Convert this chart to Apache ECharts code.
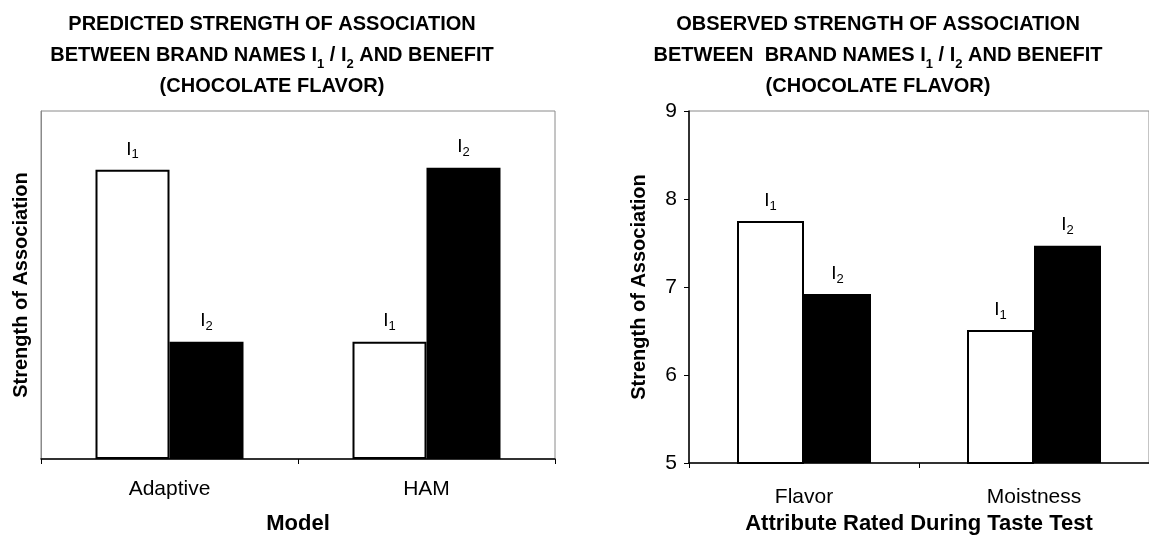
<!DOCTYPE html>
<html>
<head>
<meta charset="utf-8">
<script src="https://cdn.jsdelivr.net/npm/echarts@6/dist/echarts.min.js"></script>
<style>
  html, body { margin: 0; padding: 0; background: #fff; }
  #chart { width: 1149px; height: 540px; }
</style>
</head>
<body>
<div id="chart"></div>
<script>
// ---- data ----
const leftCategories = ['Adaptive', 'HAM'];
const leftI1 = [8.31, 3.37];
const leftI2 = [3.37, 8.37];
const leftYMin = 0;
const leftYMax = 10;

const rightCategories = ['Flavor', 'Moistness'];
const rightI1 = [7.75, 6.51];
const rightI2 = [6.92, 7.47];
const rightYMin = 5;
const rightYMax = 9;
const rightYInterval = 1;

const leftTitle = 'PREDICTED STRENGTH OF ASSOCIATION\nBETWEEN BRAND NAMES I{s|1} / I{s|2} AND BENEFIT\n(CHOCOLATE FLAVOR)';
const rightTitle = 'OBSERVED STRENGTH OF ASSOCIATION\nBETWEEN  BRAND NAMES I{s|1} / I{s|2} AND BENEFIT\n(CHOCOLATE FLAVOR)';
const yName = 'Strength of Association';
const leftXName = 'Model';
const rightXName = 'Attribute Rated During Taste Test';

// ---- styles ----
const FONT = '"Liberation Sans", Arial, Helvetica, sans-serif';
const titleStyle = {
  fontFamily: FONT, fontSize: 20, fontWeight: 'bold', color: '#000', lineHeight: 31,
  rich: { s: { fontFamily: FONT, fontSize: 13, fontWeight: 'bold', color: '#000', lineHeight: 13, padding: [18, 0, 0, 0] } }
};
const barLabelRich = {
  a: { fontFamily: FONT, fontSize: 19, color: '#000', lineHeight: 19 },
  s: { fontFamily: FONT, fontSize: 13, color: '#000', lineHeight: 13, padding: [11, 0, 0, 0] }
};
function barLabel(idx) {
  return { show: true, position: 'top', distance: 11, formatter: '{a|I}{s|' + idx + '}', rich: barLabelRich };
}
const whiteBar = { color: '#fff', borderColor: '#000', borderWidth: 2 };
const blackBar = { color: '#000' };

const chart = echarts.init(document.getElementById('chart'), null, { renderer: 'canvas' });
chart.setOption({
  animation: false,
  backgroundColor: '#fff',
  title: [
    { text: leftTitle, left: 272, top: 9, textAlign: 'center', textStyle: titleStyle, padding: 0 },
    { text: rightTitle, left: 878, top: 9, textAlign: 'center', textStyle: titleStyle, padding: 0 }
  ],
  grid: [
    { left: 41, top: 111, width: 514, bottom: 79, show: true, borderColor: '#8a8a8a', borderWidth: 1, backgroundColor: 'transparent' },
    { left: 689, top: 111, width: 470, bottom: 73, show: true, borderColor: '#8a8a8a', borderWidth: 1, backgroundColor: 'transparent' }
  ],
  xAxis: [
    {
      gridIndex: 0, type: 'category', data: leftCategories,
      name: leftXName, nameLocation: 'middle', nameGap: 54,
      nameTextStyle: { fontFamily: FONT, fontSize: 22, fontWeight: 'bold', color: '#000' },
      axisLine: { lineStyle: { color: '#000', width: 1.5 } },
      axisTick: { show: true, length: 5, lineStyle: { color: '#000' } },
      axisLabel: { margin: 20, fontFamily: FONT, fontSize: 21, color: '#000' }
    },
    {
      gridIndex: 1, type: 'category', data: rightCategories,
      name: rightXName, nameLocation: 'middle', nameGap: 50,
      nameTextStyle: { fontFamily: FONT, fontSize: 22, fontWeight: 'bold', color: '#000' },
      axisLine: { lineStyle: { color: '#000', width: 1.5 } },
      axisTick: { show: true, length: 5, lineStyle: { color: '#000' } },
      axisLabel: { margin: 24, fontFamily: FONT, fontSize: 21, color: '#000' }
    }
  ],
  yAxis: [
    {
      gridIndex: 0, type: 'value', min: leftYMin, max: leftYMax,
      name: yName, nameLocation: 'middle', nameGap: 10, nameRotate: 90,
      nameTextStyle: { fontFamily: FONT, fontSize: 20, fontWeight: 'bold', color: '#000' },
      axisLine: { show: true, lineStyle: { color: '#8a8a8a', width: 1 } },
      axisTick: { show: false }, axisLabel: { show: false }, splitLine: { show: false }
    },
    {
      gridIndex: 1, type: 'value', min: rightYMin, max: rightYMax, interval: rightYInterval,
      name: yName, nameLocation: 'middle', nameGap: 40, nameRotate: 90,
      nameTextStyle: { fontFamily: FONT, fontSize: 20, fontWeight: 'bold', color: '#000' },
      axisLine: { show: true, lineStyle: { color: '#000', width: 1.5 } },
      axisTick: { show: true, length: 5, lineStyle: { color: '#000' } },
      axisLabel: { margin: 12, fontFamily: FONT, fontSize: 21, color: '#000' },
      splitLine: { show: false }
    }
  ],
  series: [
    { type: 'bar', xAxisIndex: 0, yAxisIndex: 0, data: leftI1, barWidth: 74, barGap: '0%', itemStyle: whiteBar, label: barLabel(1) },
    { type: 'bar', xAxisIndex: 0, yAxisIndex: 0, data: leftI2, barWidth: 74, barGap: '0%', itemStyle: blackBar, label: barLabel(2) },
    { type: 'bar', xAxisIndex: 1, yAxisIndex: 1, data: rightI1, barWidth: 67, barGap: '0%', itemStyle: whiteBar, label: barLabel(1) },
    { type: 'bar', xAxisIndex: 1, yAxisIndex: 1, data: rightI2, barWidth: 67, barGap: '0%', itemStyle: blackBar, label: barLabel(2) }
  ]
});
</script>
</body>
</html>
